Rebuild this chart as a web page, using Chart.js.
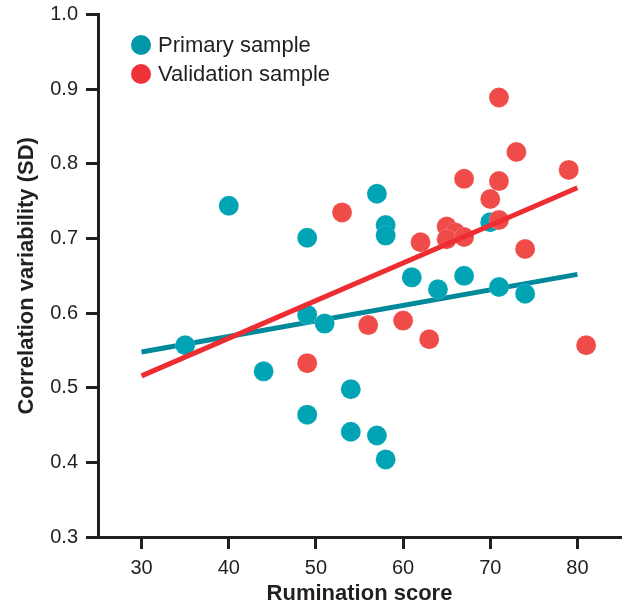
<!DOCTYPE html>
<html><head><meta charset="utf-8">
<script src="https://cdn.jsdelivr.net/npm/chart.js@4.4.0/dist/chart.umd.min.js"></script>
<style>html,body{margin:0;padding:0;background:#fff}#wrap{width:627px;height:604px;position:relative}</style>
</head><body><div id="wrap"><canvas id="c"></canvas></div>
<script>
// ---- data ----
const primaryX = [35, 40, 44, 49, 49, 49, 51, 54, 54, 57, 57, 58, 58, 58, 61, 64, 67, 70, 71, 74];
const primaryY = [0.557, 0.744, 0.522, 0.701, 0.598, 0.464, 0.586, 0.498, 0.441, 0.760, 0.436, 0.718, 0.704, 0.404, 0.648, 0.632, 0.650, 0.722, 0.635, 0.626];
const validationX = [49, 53, 56, 60, 63, 62, 65, 66, 65, 67, 67, 70, 71, 71, 71, 73, 74, 79, 81];
const validationY = [0.533, 0.735, 0.584, 0.590, 0.565, 0.695, 0.716, 0.708, 0.699, 0.702, 0.780, 0.753, 0.777, 0.889, 0.725, 0.816, 0.686, 0.792, 0.557];
const fitX = [30, 80];
const primaryFit = [0.548, 0.652];
const validationFit = [0.516, 0.768];
const xTicks = [30, 40, 50, 60, 70, 80];
const yTicks = [0.3, 0.4, 0.5, 0.6, 0.7, 0.8, 0.9, 1.0];
const seriesLabels = ['Primary sample', 'Validation sample'];
const xTitle = 'Rumination score';
const yTitle = 'Correlation variability (SD)';

// ---- styles ----
const INK = '#231F20';
const FONT = "'Liberation Sans', Arial, Helvetica, sans-serif";
const tealPt = '#00A4B4', tealLine = '#00899A', tealLegend = '#0098A8';
const redPt = '#EF4B48', redLine = '#EE2D33', redLegend = '#EE3237';

Chart.defaults.font.family = FONT;
const pts = (xs, ys) => xs.map((x, i) => ({x: x, y: ys[i]}));

const legendPlugin = {
  id: 'insideLegend',
  afterDraw(chart) {
    const ctx = chart.ctx;
    const cols = [tealLegend, redLegend];
    ctx.save();
    seriesLabels.forEach((lab, i) => {
      const cy = 45 + i * 29;
      ctx.beginPath();
      ctx.fillStyle = cols[i];
      ctx.arc(141, cy, 10, 0, Math.PI * 2);
      ctx.fill();
      ctx.fillStyle = INK;
      ctx.font = '22px ' + FONT;
      ctx.textBaseline = 'middle';
      ctx.textAlign = 'left';
      ctx.fillText(lab, 158, cy + 1);
    });
    ctx.restore();
  }
};

new Chart(document.getElementById('c'), {
  type: 'scatter',
  data: {
    datasets: [
      {label: seriesLabels[0] + ' fit', type: 'line', data: pts(fitX, primaryFit), borderColor: tealLine, borderWidth: 5, pointRadius: 0, fill: false, order: 3, borderCapStyle: 'butt'},
      {label: seriesLabels[0], data: pts(primaryX, primaryY), backgroundColor: tealPt, borderColor: 'rgba(255,255,255,0.35)', borderWidth: 0.5, pointRadius: 10, order: 2},
      {label: seriesLabels[1], data: pts(validationX, validationY), backgroundColor: redPt, borderColor: 'rgba(255,255,255,0.35)', borderWidth: 0.5, pointRadius: 10, order: 1},
      {label: seriesLabels[1] + ' fit', type: 'line', data: pts(fitX, validationFit), borderColor: redLine, borderWidth: 5, pointRadius: 0, fill: false, order: 0, borderCapStyle: 'butt'}
    ]
  },
  options: {
    responsive: true, maintainAspectRatio: false, animation: false,
    layout: {autoPadding: false, padding: {top: 14.7, right: 6, left: 0, bottom: 0}},
    plugins: {legend: {display: false}, tooltip: {enabled: false}},
    scales: {
      x: {
        type: 'linear', min: 25, max: 85,
        afterBuildTicks: s => { s.ticks = xTicks.map(v => ({value: v})); },
        afterFit: s => { s.height = 67; s.paddingLeft = 0; s.paddingRight = 0; },
        grid: {display: true, drawOnChartArea: false, drawTicks: true, tickLength: 12, tickWidth: 3, color: INK, tickColor: INK},
        border: {display: true, width: 3, color: INK},
        ticks: {font: {size: 20}, color: INK, padding: 7, callback: v => String(v)},
        title: {display: true, text: xTitle, color: INK, font: {size: 22, weight: 'bold', lineHeight: 0.9}, padding: {top: 0, bottom: 0}}
      },
      y: {
        type: 'linear', min: 0.3, max: 1.0,
        afterBuildTicks: s => { s.ticks = yTicks.map(v => ({value: v})); },
        afterFit: s => { s.width = 98; s.paddingTop = 0; s.paddingBottom = 0; },
        grid: {display: true, drawOnChartArea: false, drawTicks: true, tickLength: 12, tickWidth: 3, color: INK, tickColor: INK},
        border: {display: true, width: 3, color: INK},
        ticks: {font: {size: 20}, color: INK, padding: 8, callback: v => Number(v).toFixed(1)},
        title: {display: true, text: yTitle, color: INK, font: {size: 22, weight: 'bold'}, padding: {top: 14, bottom: 0}}
      }
    }
  },
  plugins: [legendPlugin]
});
</script>
</body></html>
